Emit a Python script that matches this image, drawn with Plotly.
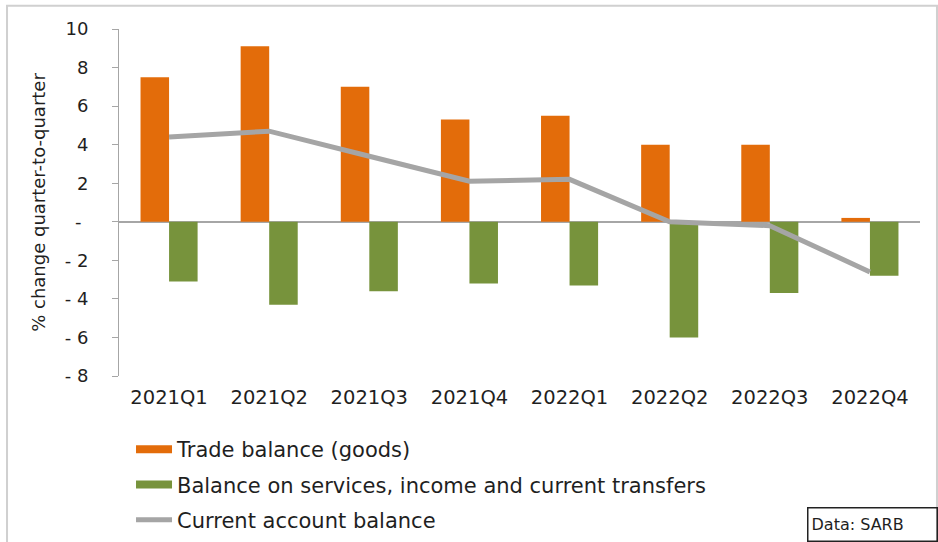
import plotly.graph_objects as go

quarters = ["2021Q1", "2021Q2", "2021Q3", "2021Q4", "2022Q1", "2022Q2", "2022Q3", "2022Q4"]
trade_balance = [7.5, 9.1, 7.0, 5.3, 5.5, 4.0, 4.0, 0.2]
services_balance = [-3.1, -4.3, -3.6, -3.2, -3.3, -6.0, -3.7, -2.8]
current_account = [4.4, 4.7, 3.4, 2.1, 2.2, 0.0, -0.2, -2.6]
y_tickvals = [10, 8, 6, 4, 2, 0, -2, -4, -6, -8]
y_ticktext = ["10", "8", "6", "4", "2", "", "- 2", "- 4", "- 6", "- 8"]
zero_label = "-"

ORANGE = "#E36C0A"
GREEN = "#77933C"
GREY = "#A5A5A5"
FONT = "DejaVu Sans"
TXT = "#1F1F1F"

fig = go.Figure()
fig.add_trace(go.Bar(x=quarters, y=trade_balance, marker=dict(color=ORANGE, line=dict(width=0)),
                     name="Trade balance (goods)", showlegend=False))
fig.add_trace(go.Bar(x=quarters, y=services_balance, marker=dict(color=GREEN, line=dict(width=0)),
                     name="Balance on services, income and current transfers", showlegend=False))
fig.add_trace(go.Scatter(x=quarters, y=current_account, mode="lines",
                         line=dict(color=GREY, width=5), name="Current account balance",
                         showlegend=False))

# legend entries
fig.add_trace(go.Scatter(x=[None], y=[None], mode="lines", line=dict(color=ORANGE, width=8),
                         name="Trade balance (goods)", legendgroup="a"))
fig.add_trace(go.Scatter(x=[None], y=[None], mode="lines", line=dict(color=GREEN, width=8),
                         name="Balance on services, income and current transfers", legendgroup="b"))
fig.add_trace(go.Scatter(x=[None], y=[None], mode="lines", line=dict(color=GREY, width=5),
                         name="Current account balance", legendgroup="c"))

fig.update_layout(
    width=938, height=542,
    margin=dict(l=119, r=18, t=29, b=166, autoexpand=False),
    paper_bgcolor="white", plot_bgcolor="white",
    font=dict(family=FONT, size=18, color=TXT),
    barmode="group", bargap=0.43, bargroupgap=0,
    showlegend=True,
    legend=dict(x=0.015, xanchor="left", y=-0.153, yanchor="top",
                orientation="v", traceorder="grouped", tracegroupgap=5,
                itemwidth=36, font=dict(family=FONT, size=21, color=TXT),
                bgcolor="rgba(0,0,0,0)"),
    xaxis=dict(showline=False, showgrid=False, zeroline=False, automargin=False,
               ticks="outside", ticklen=4, tickcolor="rgba(0,0,0,0)",
               tickfont=dict(family=FONT, size=19.5, color=TXT)),
    yaxis=dict(range=[-8, 10], tickvals=y_tickvals, ticktext=y_ticktext, automargin=False,
               showline=True, linecolor="#A6A6A6", linewidth=1,
               ticks="outside", ticklen=6, tickcolor="#A6A6A6",
               ticklabelstandoff=20,
               showgrid=False, zeroline=True, zerolinecolor="#A6A6A6", zerolinewidth=1.5,
               tickfont=dict(family=FONT, size=18, color=TXT),
               title=dict(text="% change quarter-to-quarter", standoff=14,
                          font=dict(family=FONT, size=18, color=TXT))),
    shapes=[dict(type="rect", xref="paper", yref="paper",
                 x0=-0.1398, x1=1.0212, y0=-0.6, y1=1.0673,
                 line=dict(color="#D0D0D0", width=2), fillcolor="rgba(0,0,0,0)", layer="below")],
    annotations=[
        dict(text="Data: SARB", xref="paper", yref="paper",
             x=0.859, xanchor="left", y=-0.4267, yanchor="middle",
             showarrow=False, align="left", width=122, height=26,
             bordercolor="#222222", borderwidth=1.5, borderpad=3,
             font=dict(family=FONT, size=16, color=TXT)),
        dict(text=zero_label, xref="paper", yref="y", x=-0.051, xanchor="center",
             y=0, yanchor="middle", showarrow=False,
             font=dict(family=FONT, size=18, color=TXT)),
    ],
)

fig.write_html("out.html", config={"displayModeBar": False},
               post_script="document.body.style.margin='0';")
